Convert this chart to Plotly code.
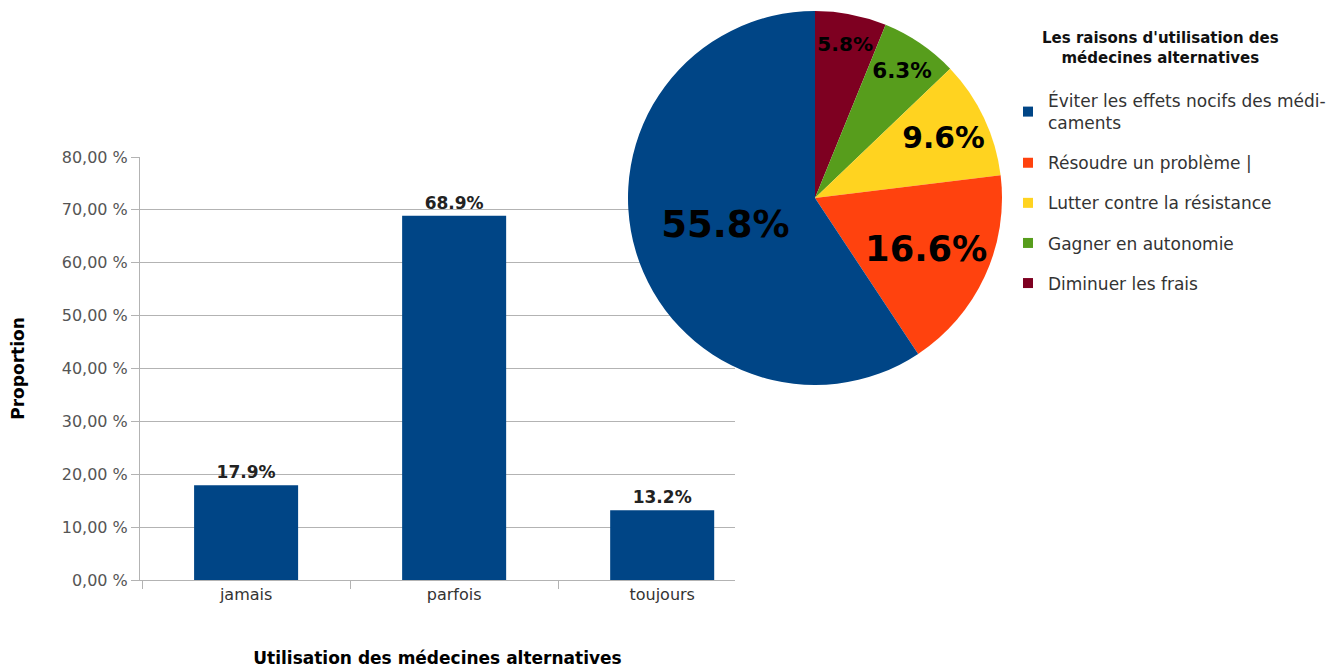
import plotly.graph_objects as go

# bar chart data
usage_cats = ["jamais", "parfois", "toujours"]
usage_pct = [17.9, 68.9, 13.2]

# pie chart data (legend order)
reasons = [
    "Éviter les effets nocifs des médi-<br>caments",
    "Résoudre un problème |",
    "Lutter contre la résistance",
    "Gagner en autonomie",
    "Diminuer les frais",
]
reason_pct = [55.8, 16.6, 9.6, 6.3, 5.8]
reason_colors = ["#004586", "#ff420e", "#ffd320", "#579d1c", "#7e0021"]
label_sizes = [37, 37, 34, 27, 25]

y_ticks = [0, 10, 20, 30, 40, 50, 60, 70, 80]
y_ticktext = ["0,00 %", "10,00 %", "20,00 %", "30,00 %", "40,00 %",
              "50,00 %", "60,00 %", "70,00 %", "80,00 %"]

W, H = 1336, 668
OFF = 8  # page margin around the plot div
FONT = "DejaVu Sans, sans-serif"


def fx(px):
    return (px - OFF) / W


def fy(py):
    return 1 - (py - OFF) / H


fig = go.Figure()

fig.add_trace(go.Bar(
    x=usage_cats, y=usage_pct, width=0.5,
    marker=dict(color="#004586", line=dict(width=0)),
    texttemplate="<b>%{y:.1f}%</b>", textposition="outside",
    textfont=dict(family=FONT, size=17, color="#222222"),
    cliponaxis=False, showlegend=False, hoverinfo="skip",
))

# drawn clockwise from 12 o'clock, so the slices go in reverse
fig.add_trace(go.Pie(
    values=reason_pct[::-1], labels=reasons[::-1], sort=False, direction="clockwise",
    marker=dict(colors=reason_colors[::-1], line=dict(width=0)),
    text=[f"<b>{v}%</b>" for v in reason_pct[::-1]], textinfo="text",
    textposition="inside", insidetextorientation="horizontal",
    insidetextfont=dict(family=FONT, color="black", size=label_sizes[::-1]),
    domain=dict(x=[fx(628), fx(1002)], y=[fy(385), fy(11)]),
    showlegend=False, hoverinfo="skip",
))

# legend entries, one group each so they can be spaced out
for i, (name, col) in enumerate(zip(reasons, reason_colors)):
    fig.add_trace(go.Scatter(
        x=[None], y=[None], mode="markers", name=name,
        marker=dict(symbol="square", size=10, color=col),
        legendgroup=f"g{i}", showlegend=True,
    ))

fig.update_layout(
    width=W, height=H,
    margin=dict(l=0, r=0, t=0, b=0),
    paper_bgcolor="white", plot_bgcolor="white",
    font=dict(family=FONT, color="#333333"),
    xaxis=dict(
        domain=[fx(140), fx(735)], range=[-0.51, 2.35], automargin=False,
        showline=True, linecolor="#b3b3b3", linewidth=1,
        ticks="outside", tickson="boundaries", ticklen=8, tickcolor="#b3b3b3",
        tickfont=dict(size=16, color="#333333"),
        title=dict(text="<b>Utilisation des médecines alternatives</b>",
                   font=dict(family=FONT, size=17, color="black"), standoff=48),
    ),
    yaxis=dict(
        domain=[fy(580), fy(157)], range=[0, 80], automargin=False,
        tickvals=y_ticks, ticktext=y_ticktext,
        showline=True, linecolor="#b3b3b3", linewidth=1,
        showgrid=True, gridcolor="#b3b3b3", gridwidth=1,
        ticks="outside", ticklen=8, tickcolor="#b3b3b3",
        tickfont=dict(size=16, color="#555555"),
        zeroline=False,
        title=dict(text="<b>Proportion</b>",
                   font=dict(family=FONT, size=17, color="black"), standoff=32),
    ),
    legend=dict(
        x=fx(1008), y=fy(83), xanchor="left", yanchor="top",
        tracegroupgap=15, itemwidth=30,
        font=dict(size=17, color="#333333"),
    ),
    annotations=[dict(
        text="<b>Les raisons d'utilisation des<br>médecines alternatives</b>",
        x=fx(1160), y=fy(48), xref="paper", yref="paper",
        xanchor="center", yanchor="middle",
        showarrow=False, align="center",
        font=dict(family=FONT, size=15, color="#111111"),
    )],
)

fig.write_html("out.html")
